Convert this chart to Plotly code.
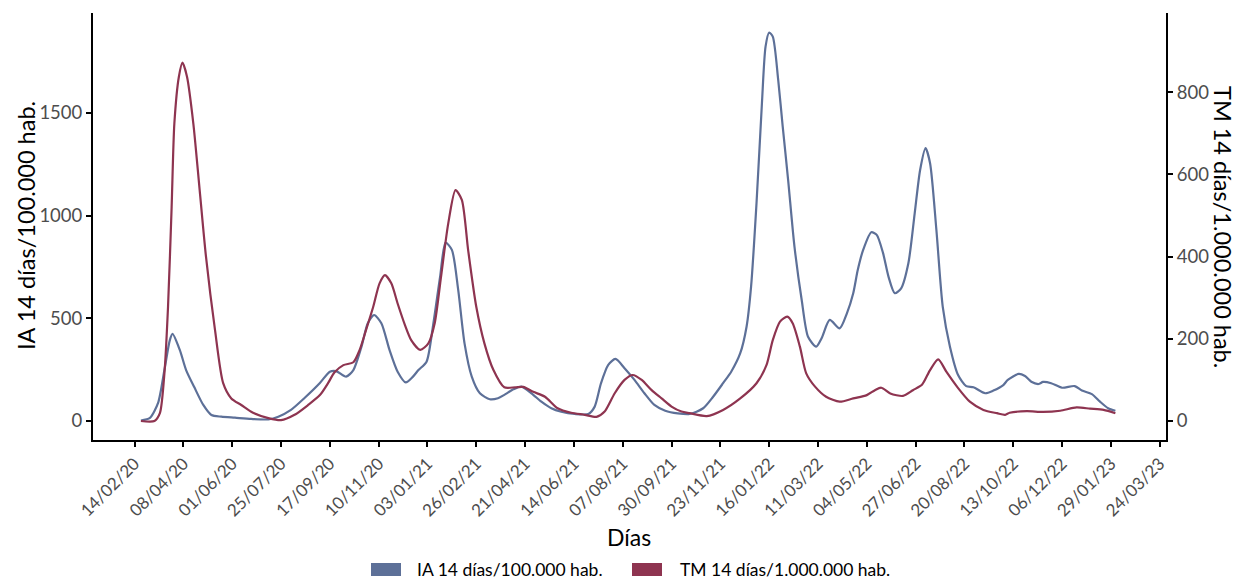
import plotly.graph_objects as go

# IA 14 días / 100.000 hab. (eje izquierdo)
ia_dates = [
    "2020-02-21", "2020-03-02", "2020-03-11", "2020-03-18", "2020-03-24", "2020-03-27",
    "2020-04-04", "2020-04-11", "2020-04-20", "2020-04-30", "2020-05-09", "2020-05-20",
    "2020-06-04", "2020-06-22", "2020-07-11", "2020-07-22", "2020-08-05", "2020-08-20",
    "2020-09-06", "2020-09-17", "2020-09-24", "2020-10-05", "2020-10-13", "2020-10-22",
    "2020-10-29", "2020-11-05", "2020-11-13", "2020-11-22", "2020-12-01", "2020-12-10",
    "2020-12-18", "2020-12-24", "2021-01-02", "2021-01-09", "2021-01-17", "2021-01-23",
    "2021-01-30", "2021-02-06", "2021-02-13", "2021-02-21", "2021-03-02", "2021-03-13",
    "2021-03-22", "2021-03-29", "2021-04-08", "2021-04-17", "2021-04-28", "2021-05-09",
    "2021-05-20", "2021-05-31", "2021-06-15", "2021-06-30", "2021-07-07", "2021-07-14",
    "2021-07-22", "2021-07-30", "2021-08-09", "2021-08-20", "2021-08-31", "2021-09-11",
    "2021-09-23", "2021-10-07", "2021-10-20", "2021-11-04", "2021-11-15", "2021-11-26",
    "2021-12-05", "2021-12-15", "2021-12-22", "2021-12-27", "2022-01-02", "2022-01-08",
    "2022-01-12", "2022-01-16", "2022-01-20", "2022-01-26", "2022-01-31", "2022-02-06",
    "2022-02-13", "2022-02-21", "2022-02-28", "2022-03-09", "2022-03-15", "2022-03-24",
    "2022-04-04", "2022-04-12", "2022-04-19", "2022-04-24", "2022-04-30", "2022-05-09",
    "2022-05-15", "2022-05-22", "2022-05-28", "2022-06-04", "2022-06-11", "2022-06-19",
    "2022-06-26", "2022-07-02", "2022-07-08", "2022-07-13", "2022-07-20", "2022-07-27",
    "2022-08-04", "2022-08-13", "2022-08-22", "2022-08-30", "2022-09-12", "2022-09-21",
    "2022-10-02", "2022-10-07", "2022-10-19", "2022-10-26", "2022-11-02", "2022-11-10",
    "2022-11-15", "2022-11-24", "2022-12-06", "2022-12-20", "2022-12-28", "2023-01-08",
    "2023-01-17", "2023-01-26", "2023-02-03",
]
ia_values = [
    2, 15, 88, 248, 394, 424,
    346, 248, 165, 78, 29, 21,
    16, 10, 8, 21, 54, 112,
    185, 240, 243, 216, 248, 362,
    476, 516, 476, 346, 240, 188,
    216, 248, 289, 459, 703, 868,
    833, 638, 378, 216, 135, 106,
    111, 127, 154, 167, 135, 94,
    62, 45, 34, 34, 70, 184,
    273, 302, 257, 200, 135, 78,
    50, 37, 34, 62, 118, 184,
    240, 330, 459, 654, 1060, 1547,
    1822, 1891, 1871, 1660, 1433, 1173,
    849, 589, 410, 362, 403, 492,
    451, 524, 622, 735, 833, 919,
    906, 817, 703, 622, 646, 768,
    1011, 1222, 1328, 1255, 930, 557,
    362, 224, 170, 164, 135, 148,
    175, 200, 229, 219, 191, 180,
    190, 184, 162, 170, 148, 131,
    94, 62, 50,
]

# TM 14 días / 1.000.000 hab. (eje derecho)
tm_dates = [
    "2020-02-21", "2020-03-07", "2020-03-13", "2020-03-18", "2020-03-22", "2020-03-26",
    "2020-03-29", "2020-04-03", "2020-04-07", "2020-04-12", "2020-04-19", "2020-04-26",
    "2020-05-03", "2020-05-13", "2020-05-22", "2020-05-31", "2020-06-11", "2020-06-24",
    "2020-07-11", "2020-07-25", "2020-08-09", "2020-08-24", "2020-09-06", "2020-09-15",
    "2020-09-22", "2020-10-02", "2020-10-13", "2020-10-20", "2020-10-27", "2020-11-04",
    "2020-11-11", "2020-11-17", "2020-11-24", "2020-12-01", "2020-12-09", "2020-12-16",
    "2020-12-26", "2021-01-04", "2021-01-11", "2021-01-18", "2021-01-26", "2021-02-03",
    "2021-02-10", "2021-02-17", "2021-02-26", "2021-03-07", "2021-03-17", "2021-03-29",
    "2021-04-10", "2021-04-19", "2021-04-30", "2021-05-13", "2021-05-27", "2021-06-11",
    "2021-06-26", "2021-07-09", "2021-07-18", "2021-07-29", "2021-08-09", "2021-08-18",
    "2021-08-28", "2021-09-08", "2021-09-19", "2021-09-30", "2021-10-11", "2021-10-20",
    "2021-11-08", "2021-11-26", "2021-12-15", "2022-01-02", "2022-01-13", "2022-01-20",
    "2022-01-28", "2022-02-05", "2022-02-11", "2022-02-19", "2022-02-26", "2022-03-08",
    "2022-03-20", "2022-04-04", "2022-04-19", "2022-05-04", "2022-05-13", "2022-05-20",
    "2022-05-30", "2022-06-13", "2022-06-24", "2022-07-04", "2022-07-13", "2022-07-22",
    "2022-07-31", "2022-08-12", "2022-08-26", "2022-09-10", "2022-09-25", "2022-10-04",
    "2022-10-09", "2022-10-28", "2022-11-15", "2022-12-04", "2022-12-22", "2023-01-06",
    "2023-01-21", "2023-02-03",
]
tm_values = [
    0, 0, 19, 116, 278, 521,
    724, 838, 872, 838, 724, 562,
    400, 221, 92, 55, 39, 20,
    7, 2, 15, 39, 63, 92,
    118, 136, 143, 173, 221, 278,
    335, 355, 335, 286, 234, 197,
    173, 189, 238, 351, 481, 562,
    538, 416, 278, 189, 124, 82,
    82, 83, 71, 59, 31, 20,
    15, 10, 23, 67, 100, 112,
    100, 75, 55, 35, 23, 19,
    12, 27, 55, 92, 136, 197,
    242, 254, 238, 181, 116, 83,
    59, 47, 55, 63, 75, 81,
    67, 61, 75, 88, 124, 150,
    120, 83, 47, 27, 19, 15,
    20, 24, 22, 25, 33, 30,
    27, 19,
]

ia_name = "IA 14 días/100.000 hab."
tm_name = "TM 14 días/1.000.000 hab."
x_title = "Días"

left_ticks = [0, 500, 1000, 1500]
right_ticks = [0, 200, 400, 600, 800]

BLUE = "#5D7098"
RED = "#8E3450"
TICK_GREY = "#4D4D4D"
FONT = "Lato"

W, H = 1242, 579
L, R, T, B = 93, 76, 13, 139
plot_w = W - L - R
plot_h = H - T - B


def px_x(px):
    return (px - L) / plot_w


def px_y(py):
    return (H - B - py) / plot_h


fig = go.Figure()
fig.add_trace(go.Scatter(
    x=ia_dates, y=ia_values, mode="lines", name=ia_name,
    line=dict(color=BLUE, width=2.2, shape="spline", smoothing=0.7),
    yaxis="y", showlegend=False,
))
fig.add_trace(go.Scatter(
    x=tm_dates, y=tm_values, mode="lines", name=tm_name,
    line=dict(color=RED, width=2.2, shape="spline", smoothing=0.7),
    yaxis="y2", showlegend=False,
))

axis_common = dict(
    showline=True, linecolor="black", linewidth=2,
    ticks="outside", ticklen=5, tickwidth=1.5, tickcolor="black",
    showgrid=False, zeroline=False,
)

fig.update_layout(
    width=W, height=H,
    margin=dict(l=L, r=R, t=T, b=B),
    paper_bgcolor="white", plot_bgcolor="white",
    font=dict(family=FONT),
    showlegend=False,
    xaxis=dict(
        **axis_common,
        type="date",
        range=["2019-12-30", "2023-03-31"],
        tickmode="linear", tick0="2020-02-14", dtick=54 * 86400000,
        tickformat="%d/%m/%y", tickangle=-45,
        tickfont=dict(family=FONT, size=17, color=TICK_GREY),
    ),
    yaxis=dict(
        **axis_common,
        range=[-92.5, 1986],
        tickmode="array", tickvals=left_ticks,
        tickfont=dict(family=FONT, size=18.5, color=TICK_GREY),
    ),
    yaxis2=dict(
        **axis_common,
        overlaying="y", side="right",
        range=[-46.25, 993],
        tickmode="array", tickvals=right_ticks,
        tickfont=dict(family=FONT, size=18.5, color=TICK_GREY),
    ),
)

annotations = [
    dict(text=ia_name, xref="paper", yref="paper", x=px_x(26), y=px_y(226),
         textangle=-90, showarrow=False, xanchor="center", yanchor="middle",
         font=dict(family=FONT, size=23.5, color="black")),
    dict(text=tm_name, xref="paper", yref="paper", x=px_x(1223), y=px_y(227),
         textangle=90, showarrow=False, xanchor="center", yanchor="middle",
         font=dict(family=FONT, size=23.5, color="black")),
    dict(text=x_title, xref="paper", yref="paper", x=px_x(629), y=px_y(537),
         showarrow=False, xanchor="center", yanchor="middle",
         font=dict(family=FONT, size=23, color="black")),
    dict(text=ia_name, xref="paper", yref="paper", x=px_x(415), y=px_y(569.5),
         showarrow=False, xanchor="left", yanchor="middle",
         font=dict(family=FONT, size=17.5, color="black")),
    dict(text=tm_name, xref="paper", yref="paper", x=px_x(678), y=px_y(569.5),
         showarrow=False, xanchor="left", yanchor="middle",
         font=dict(family=FONT, size=17.5, color="black")),
]
fig.update_layout(annotations=annotations)

# legend keys drawn as filled rectangles
for x0, x1, color in [(371, 401, BLUE), (632, 662, RED)]:
    fig.add_shape(type="rect", xref="paper", yref="paper",
                  x0=px_x(x0), x1=px_x(x1), y0=px_y(576), y1=px_y(563),
                  fillcolor=color, line=dict(width=0))

fig.write_html("out.html")
